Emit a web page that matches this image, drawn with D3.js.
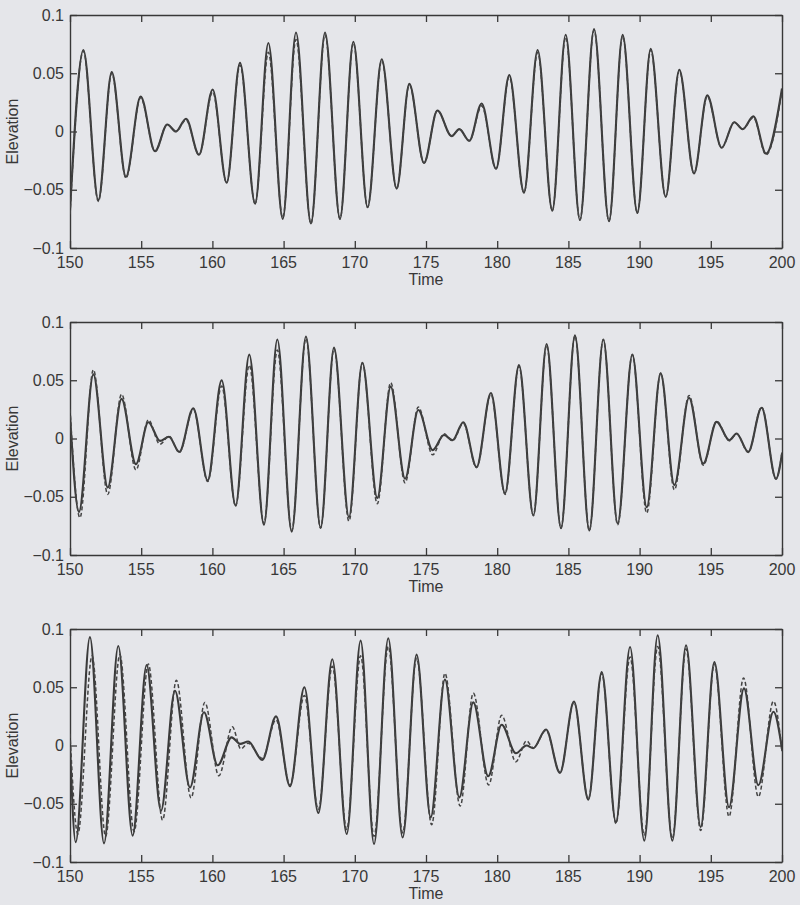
<!DOCTYPE html>
<html>
<head>
<meta charset="utf-8">
<script src="https://cdn.jsdelivr.net/npm/d3@7"></script>
<style>
  html, body { margin: 0; padding: 0; background: #e5e6ea; overflow: hidden; }
  svg { display: block; }
</style>
</head>
<body>
<div id="my_dataviz"></div>
<script>
// x / y ticks
const xTicks = [150, 155, 160, 165, 170, 175, 180, 185, 190, 195, 200];
const yTicks = [-0.1, -0.05, 0, 0.05, 0.1];
const yTickLabels = ['\u22120.1', '\u22120.05', '0', '0.05', '0.1'];

// panel 1: [time, elevation] at extrema
const panel1Solid = [[150,-0.068],[150.94,0.07],[151.99,-0.059],[152.93,0.051],[153.93,-0.039],[154.96,0.03],[155.97,-0.017],[156.83,0.006],[157.44,0.0],[158.15,0.011],[159.06,-0.02],[160.02,0.036],[161.0,-0.044],[161.94,0.059],[163.0,-0.062],[163.93,0.076],[164.94,-0.075],[165.87,0.085],[166.92,-0.079],[167.91,0.085],[168.96,-0.075],[169.9,0.077],[170.9,-0.065],[171.89,0.062],[172.94,-0.049],[173.83,0.041],[174.86,-0.027],[175.8,0.018],[176.8,-0.004],[177.34,0.002],[178.04,-0.008],[178.91,0.024],[179.92,-0.032],[180.85,0.0485],[181.88,-0.0525],[182.84,0.07],[183.87,-0.068],[184.81,0.083],[185.81,-0.076],[186.8,0.088],[187.85,-0.077],[188.81,0.083],[189.84,-0.07],[190.78,0.071],[191.83,-0.056],[192.79,0.053],[193.82,-0.036],[194.75,0.031],[195.76,-0.014],[196.65,0.008],[197.24,0.002],[197.99,0.013],[198.88,-0.019],[200,0.037]];
const panel1Dash = [[150,-0.071],[150.94,0.069],[151.99,-0.06],[152.93,0.05],[153.93,-0.04],[154.96,0.029],[155.97,-0.017],[156.83,0.006],[157.44,0.0],[158.15,0.01],[159.06,-0.02],[160.02,0.034],[161.0,-0.044],[161.94,0.057],[163.0,-0.062],[163.93,0.068],[164.94,-0.074],[165.87,0.079],[166.92,-0.079],[167.91,0.083],[168.96,-0.075],[169.9,0.076],[170.9,-0.065],[171.89,0.061],[172.94,-0.049],[173.83,0.04],[174.86,-0.027],[175.8,0.018],[176.8,-0.004],[177.34,0.002],[178.04,-0.008],[178.91,0.022],[179.92,-0.032],[180.85,0.047],[181.88,-0.0525],[182.84,0.068],[183.87,-0.068],[184.81,0.081],[185.81,-0.076],[186.8,0.087],[187.85,-0.077],[188.81,0.082],[189.84,-0.07],[190.78,0.07],[191.83,-0.056],[192.79,0.052],[193.82,-0.036],[194.75,0.03],[195.76,-0.014],[196.65,0.008],[197.24,0.002],[197.99,0.012],[198.88,-0.02],[200,0.035]];

// panel 2
const panel2Solid = [[150,0.02],[150.63,-0.063],[151.64,0.055],[152.65,-0.042],[153.62,0.034],[154.63,-0.022],[155.5,0.014],[156.32,-0.002],[156.95,0.0015],[157.68,-0.0115],[158.66,0.026],[159.67,-0.036],[160.65,0.05],[161.63,-0.0575],[162.59,0.072],[163.62,-0.074],[164.56,0.085],[165.57,-0.08],[166.57,0.0876],[167.6,-0.0765],[168.54,0.078],[169.59,-0.0675],[170.53,0.065],[171.58,-0.051],[172.52,0.0445],[173.53,-0.0345],[174.46,0.0244],[175.47,-0.01],[176.26,0.003],[176.87,-0.0015],[177.62,0.014],[178.55,-0.0245],[179.56,0.039],[180.55,-0.047],[181.53,0.063],[182.54,-0.066],[183.47,0.081],[184.48,-0.077],[185.46,0.0885],[186.47,-0.079],[187.45,0.085],[188.46,-0.073],[189.49,0.072],[190.5,-0.059],[191.48,0.056],[192.44,-0.04],[193.47,0.035],[194.47,-0.0216],[195.41,0.0143],[196.3,-0.0015],[196.81,0.0043],[197.63,-0.0115],[198.57,0.0264],[199.58,-0.0345],[200,-0.013]];
const panel2Dash = [[150,0.025],[150.7,-0.068],[151.64,0.059],[152.65,-0.048],[153.62,0.038],[154.63,-0.027],[155.5,0.016],[156.32,-0.005],[156.95,0.002],[157.68,-0.012],[158.66,0.025],[159.67,-0.037],[160.65,0.045],[161.63,-0.058],[162.59,0.063],[163.62,-0.073],[164.56,0.076],[165.57,-0.079],[166.57,0.086],[167.6,-0.077],[168.54,0.077],[169.59,-0.071],[170.53,0.065],[171.58,-0.056],[172.52,0.048],[173.53,-0.038],[174.46,0.027],[175.47,-0.014],[176.26,0.004],[176.87,-0.002],[177.62,0.013],[178.55,-0.025],[179.56,0.038],[180.55,-0.048],[181.53,0.062],[182.54,-0.066],[183.47,0.08],[184.48,-0.077],[185.46,0.088],[186.47,-0.079],[187.45,0.085],[188.46,-0.074],[189.49,0.072],[190.5,-0.064],[191.48,0.056],[192.44,-0.044],[193.47,0.037],[194.47,-0.023],[195.41,0.015],[196.3,-0.002],[196.81,0.004],[197.63,-0.012],[198.57,0.027],[199.58,-0.035],[200,-0.012]];

// panel 3
const panel3Solid = [[150,0.0],[150.4,-0.083],[151.4,0.093],[152.39,-0.084],[153.39,0.0854],[154.4,-0.0774],[155.38,0.069],[156.39,-0.056],[157.37,0.047],[158.43,-0.036],[159.41,0.0286],[160.37,-0.017],[161.35,0.007],[161.94,0.0014],[162.52,0.0034],[163.5,-0.0124],[164.47,0.025],[165.45,-0.035],[166.46,0.05],[167.44,-0.058],[168.42,0.074],[169.43,-0.076],[170.41,0.09],[171.35,-0.0846],[172.35,0.092],[173.36,-0.079],[174.34,0.078],[175.33,-0.0617],[176.33,0.0567],[177.34,-0.0445],[178.32,0.037],[179.37,-0.0264],[180.31,0.0178],[181.31,-0.0066],[182.06,0.0],[182.53,-0.0023],[183.43,0.0137],[184.41,-0.0235],[185.39,0.0378],[186.4,-0.0465],[187.34,0.063],[188.34,-0.066],[189.33,0.0845],[190.33,-0.0817],[191.27,0.0946],[192.3,-0.0817],[193.26,0.086],[194.29,-0.07],[195.25,0.0716],[196.28,-0.053],[197.33,0.049],[198.34,-0.034],[199.4,0.029],[200,-0.003]];
const panel3Dash = [[150,0.01],[150.55,-0.076],[151.55,0.077],[152.5,-0.078],[153.5,0.078],[154.5,-0.074],[155.5,0.07],[156.5,-0.064],[157.47,0.056],[158.5,-0.045],[159.47,0.037],[160.45,-0.026],[161.4,0.016],[162.0,-0.003],[162.5,0.002],[163.5,-0.011],[164.47,0.022],[165.45,-0.034],[166.46,0.043],[167.44,-0.055],[168.42,0.068],[169.43,-0.072],[170.41,0.077],[171.35,-0.078],[172.35,0.085],[173.36,-0.075],[174.34,0.075],[175.4,-0.068],[176.33,0.062],[177.4,-0.052],[178.32,0.045],[179.4,-0.034],[180.31,0.026],[181.31,-0.014],[182.06,0.004],[182.53,-0.002],[183.43,0.013],[184.41,-0.023],[185.39,0.037],[186.4,-0.046],[187.34,0.062],[188.34,-0.067],[189.33,0.076],[190.33,-0.077],[191.27,0.085],[192.3,-0.08],[193.26,0.083],[194.29,-0.073],[195.25,0.07],[196.28,-0.061],[197.3,0.058],[198.34,-0.044],[199.4,0.038],[200,-0.005]];

const panels = [
  {solid: panel1Solid, dash: panel1Dash, top: 15},
  {solid: panel2Solid, dash: panel2Dash, top: 322},
  {solid: panel3Solid, dash: panel3Dash, top: 629}
];

const width = 800;
const height = 905;
const left = 70;
const innerWidth = 712;
const innerHeight = 233;
const tickLen = 7;
const fontFamily = 'Liberation Sans, Arial, Helvetica, sans-serif';
const fontSize = 16;
const fontColor = '#383838';
const lineColor = '#3a3a3a';

const xScale = d3.scaleLinear().domain([150, 200]).range([0, innerWidth]);
const yScale = d3.scaleLinear().domain([-0.1, 0.1]).range([innerHeight, 0]);

const line = d3.line()
  .x(d => xScale(d[0]))
  .y(d => yScale(d[1]))
  .curve(d3.curveMonotoneX);

const svg = d3.select('#my_dataviz')
  .append('svg')
    .attr('width', width)
    .attr('height', height);

svg.append('defs').append('clipPath')
    .attr('id', 'plot-clip')
  .append('rect')
    .attr('width', innerWidth)
    .attr('height', innerHeight);

// axes drawn without labels; labels added as plain text below
const styleAxis = ax => {
  ax.select('.domain').attr('stroke', fontColor).attr('stroke-width', 1.4);
  ax.selectAll('.tick line').attr('stroke', fontColor).attr('stroke-width', 1.3);
};

const addText = (sel, x, y, txt, anchor) => sel.append('text')
    .attr('x', x)
    .attr('y', y)
    .attr('text-anchor', anchor)
    .style('font-family', fontFamily)
    .style('font-size', fontSize + 'px')
    .attr('fill', fontColor)
    .text(txt);

panels.forEach(p => {
  const g = svg.append('g')
      .attr('transform', `translate(${left},${p.top})`);

  g.append('g')
      .attr('transform', `translate(0,${innerHeight})`)
      .call(d3.axisBottom(xScale).tickValues(xTicks).tickFormat('')
        .tickSizeInner(-tickLen).tickSizeOuter(0))
      .call(styleAxis);

  g.append('g')
      .call(d3.axisTop(xScale).tickValues(xTicks).tickFormat('')
        .tickSizeInner(-tickLen).tickSizeOuter(0))
      .call(styleAxis);

  g.append('g')
      .call(d3.axisLeft(yScale).tickValues(yTicks).tickFormat('')
        .tickSizeInner(-tickLen).tickSizeOuter(0))
      .call(styleAxis);

  g.append('g')
      .attr('transform', `translate(${innerWidth},0)`)
      .call(d3.axisRight(yScale).tickValues(yTicks).tickFormat('')
        .tickSizeInner(-tickLen).tickSizeOuter(0))
      .call(styleAxis);

  // tick labels
  xTicks.forEach(t => addText(g, xScale(t), innerHeight + 20, String(t), 'middle'));
  yTicks.forEach((t, j) => addText(g, -6, yScale(t) + 5.5, yTickLabels[j], 'end'));

  const plot = g.append('g').attr('clip-path', 'url(#plot-clip)');

  plot.append('path')
      .datum(p.solid)
      .attr('fill', 'none')
      .attr('stroke', lineColor)
      .attr('stroke-width', 2.1)
      .attr('d', line);

  plot.append('path')
      .datum(p.dash)
      .attr('fill', 'none')
      .attr('stroke', '#444')
      .attr('stroke-width', 1.5)
      .attr('stroke-dasharray', '4,2.5')
      .attr('d', line);

  addText(g, innerWidth / 2, innerHeight + 37, 'Time', 'middle');

  addText(g, 0, 0, 'Elevation', 'middle')
      .attr('transform', `translate(${-52},${innerHeight / 2}) rotate(-90)`);
});
</script>
</body>
</html>
